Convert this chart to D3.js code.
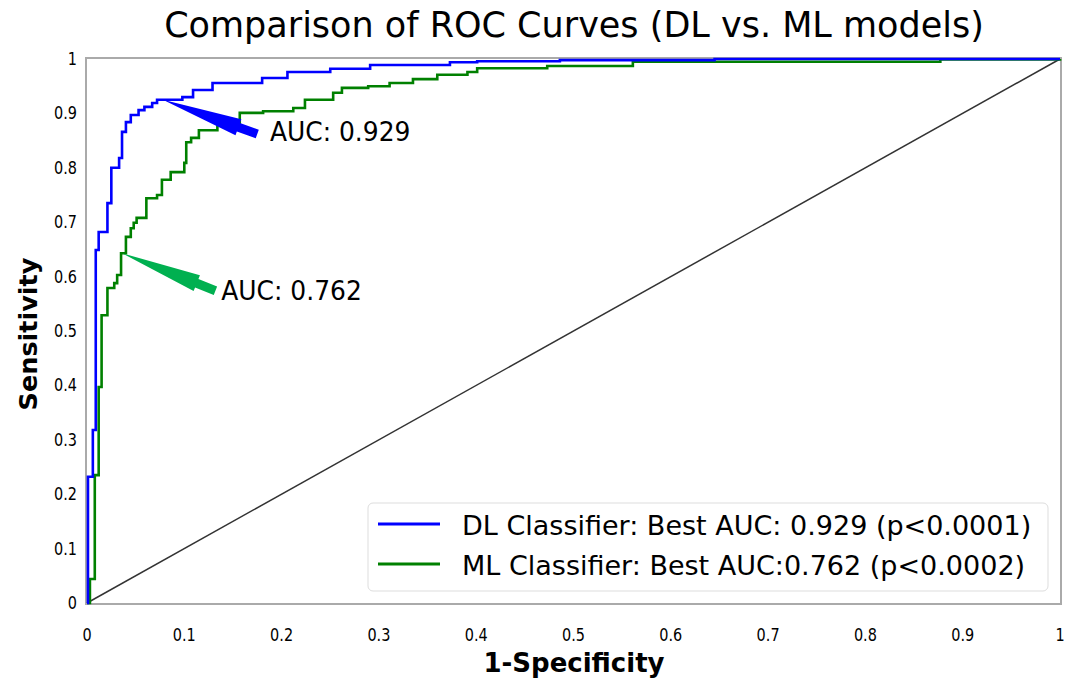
<!DOCTYPE html>
<head>
<meta charset="utf-8">
<title>ROC comparison</title>
<style>
body {
  margin: 0;
  padding: 0;
  background: #fff;
  font-family: "DejaVu Sans", sans-serif;
}
</style>
</head>
<body>
<svg id="viz" width="1067" height="680"></svg>
<script src="https://d3js.org/d3.v7.min.js"></script>
<script>

// tick labels
var xTicks = [0, 0.1, 0.2, 0.3, 0.4, 0.5, 0.6, 0.7, 0.8, 0.9, 1]
var yTicks = [0, 0.1, 0.2, 0.3, 0.4, 0.5, 0.6, 0.7, 0.8, 0.9, 1]

// DL classifier ROC (step points)
var dlFpr = [0, 0.001, 0.006, 0.009, 0.012, 0.021, 0.025, 0.033, 0.036, 0.040, 0.045, 0.053, 0.059, 0.067, 0.072,
             0.098, 0.109, 0.129, 0.180, 0.206, 0.250, 0.291, 0.373, 0.401, 0.486, 0.645, 1]
var dlTpr = [0, 0.232, 0.318, 0.649, 0.682, 0.735, 0.800, 0.818, 0.866, 0.884, 0.897, 0.906, 0.912, 0.919, 0.925,
             0.930, 0.943, 0.956, 0.965, 0.976, 0.982, 0.989, 0.994, 0.996, 0.998, 1, 1]

// ML classifier ROC
var mlFpr = [0, 0.003, 0.008, 0.012, 0.015, 0.021, 0.028, 0.031, 0.035, 0.040, 0.045, 0.048, 0.051, 0.061, 0.072,
             0.077, 0.086, 0.100, 0.102, 0.107, 0.115, 0.134, 0.157, 0.181, 0.212, 0.224, 0.253, 0.262, 0.289,
             0.311, 0.335, 0.360, 0.391, 0.401, 0.473, 0.561, 0.877, 1]
var mlTpr = [0, 0.044, 0.235, 0.397, 0.529, 0.579, 0.588, 0.603, 0.643, 0.673, 0.689, 0.699, 0.708, 0.744, 0.750,
             0.778, 0.792, 0.809, 0.847, 0.855, 0.869, 0.879, 0.901, 0.904, 0.910, 0.925, 0.938, 0.947, 0.950,
             0.956, 0.963, 0.971, 0.976, 0.983, 0.987, 0.995, 0.999, 1]

var seriesNames = ['DL Classifier: Best AUC: 0.929 (p<0.0001)', 'ML Classifier: Best AUC:0.762 (p<0.0002)']
var seriesColors = ['#0000ff', '#008000']
var arrowColors = ['#0000ff', '#00b050']
var aucLabels = ['AUC: 0.929', 'AUC: 0.762']

var svg = d3.select('#viz')
var margin = { left: 87, right: 7, top: 59, bottom: 77 }
var width = 1067, height = 680

var x = d3.scaleLinear().domain([0, 1]).range([margin.left, width - margin.right])
var y = d3.scaleLinear().domain([0, 1]).range([height - margin.bottom, margin.top])

// squeezed text helper (the reference text is narrow)
function putText(px, py, str, size, anchor, sx, weight) {
  return svg.append('text')
    .attr('transform', 'translate(' + px + ',' + py + ') scale(' + sx + ',1)')
    .attr('text-anchor', anchor)
    .attr('font-size', size)
    .attr('font-weight', weight || 'normal')
    .attr('fill', '#000')
    .text(str)
}

// title
putText(574, 37, 'Comparison of ROC Curves (DL vs. ML models)', 35, 'middle', 1.0)

// frame
svg.append('rect')
  .attr('x', x(0) - 1).attr('y', y(1) - 1)
  .attr('width', x(1) - x(0) + 2).attr('height', y(0) - y(1) + 2)
  .attr('fill', 'none').attr('stroke', '#aaa').attr('stroke-width', 2)

// chance line
svg.append('line')
  .attr('x1', x(0)).attr('y1', y(0)).attr('x2', x(1)).attr('y2', y(1))
  .attr('stroke', '#333').attr('stroke-width', 1.5)

// tick labels
xTicks.forEach(function(t) {
  putText(x(t), 641, String(t), 17, 'middle', 0.85)
})
yTicks.forEach(function(t) {
  putText(77, y(t) + 6, String(t), 17, 'end', 0.85)
})

// axis labels
putText(574, 672, '1-Specificity', 26, 'middle', 1.0, 'bold')
svg.append('text')
  .attr('transform', 'translate(37,334) rotate(-90) scale(1.02,1)')
  .attr('text-anchor', 'middle')
  .attr('font-size', 25)
  .attr('font-weight', 'bold')
  .text('Sensitivity')

// curves
var line = d3.line()
  .x(function(d) { return x(d[0]) })
  .y(function(d) { return y(d[1]) })
  .curve(d3.curveStepAfter)

var series = [d3.zip(dlFpr, dlTpr), d3.zip(mlFpr, mlTpr)]

// draw green under blue like the reference
svg.append('path').datum(series[1])
  .attr('d', line).attr('fill', 'none')
  .attr('stroke', seriesColors[1]).attr('stroke-width', 2.6)
svg.append('path').datum(series[0])
  .attr('d', line).attr('fill', 'none')
  .attr('stroke', seriesColors[0]).attr('stroke-width', 2.6)

// annotation arrows, tip on the curve, tail at the label
function arrowPoints(tip, tail, headFrac, headW, bodyW) {
  var dx = tail[0] - tip[0], dy = tail[1] - tip[1]
  var len = Math.sqrt(dx * dx + dy * dy)
  var ux = dx / len, uy = dy / len, nx = -uy, ny = ux
  var bx = tip[0] + ux * len * headFrac, by = tip[1] + uy * len * headFrac
  return [
    tip,
    [bx + nx * headW, by + ny * headW],
    [bx + nx * bodyW, by + ny * bodyW],
    [tail[0] + nx * bodyW, tail[1] + ny * bodyW],
    [tail[0] - nx * bodyW, tail[1] - ny * bodyW],
    [bx - nx * bodyW, by - ny * bodyW],
    [bx - nx * headW, by - ny * headW]
  ].map(function(p) { return p.join(',') }).join(' ')
}

var annoTip = [[0.078, 0.925], [0.036, 0.643]]
var annoTail = [[0.175, 0.862], [0.132, 0.574]]
var annoText = [[0.188, 0.849], [0.138, 0.557]]

for (var i = 0; i < 2; i++) {
  svg.append('polygon')
    .attr('points', arrowPoints([x(annoTip[i][0]), y(annoTip[i][1])],
                                [x(annoTail[i][0]), y(annoTail[i][1])], 0.8, 8.5, 4.5))
    .attr('fill', arrowColors[i])
  putText(x(annoText[i][0]), y(annoText[i][1]), aucLabels[i], 26, 'start', 0.96)
}

// legend
var legend = svg.append('g')
legend.append('rect')
  .attr('x', 368).attr('y', 503).attr('width', 680).attr('height', 88)
  .attr('rx', 5).attr('fill', '#fff').attr('fill-opacity', 0.8)
  .attr('stroke', '#ddd').attr('stroke-width', 1)

seriesNames.forEach(function(name, i) {
  var ly = 524 + i * 40
  legend.append('line')
    .attr('x1', 378).attr('x2', 440).attr('y1', ly).attr('y2', ly)
    .attr('stroke', seriesColors[i]).attr('stroke-width', 3)
  putText(462, ly + 11, name, 27, 'start', 1.0)
})

</script>
</body>
</html>
